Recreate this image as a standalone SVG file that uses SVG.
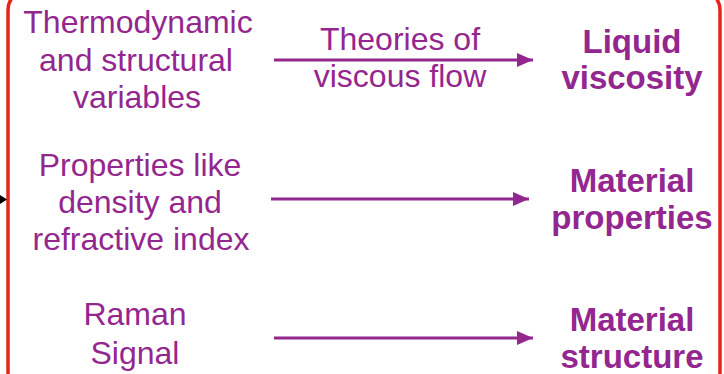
<svg xmlns="http://www.w3.org/2000/svg" width="724" height="374" viewBox="0 0 724 374">
<defs>
<marker id="ah" markerUnits="userSpaceOnUse" markerWidth="17" markerHeight="14" refX="16" refY="7" orient="auto">
<path d="M0,0 L16,7 L0,14 Z" fill="#93278F"/>
</marker>
<style>
.t{font-family:"Liberation Sans",Arial,sans-serif;font-size:32px;fill:#93278F;text-anchor:middle}
.b{font-family:"Liberation Sans",Arial,sans-serif;font-size:33px;font-weight:bold;fill:#93278F;text-anchor:middle}
.c{stroke:#93278F;stroke-width:3;fill:none;marker-end:url(#ah)}
</style>
</defs>
<rect x="0" y="0" width="724" height="374" fill="#ffffff"/>
<rect id="frame" x="8" y="-10" width="712" height="402" rx="20" ry="20" fill="none" stroke="#E8231A" stroke-width="3.5"/>
<polygon points="0,195 7,199.5 0,204" fill="#000000"/>
<g id="n1">
<text class="t" x="138" y="33">Thermodynamic</text>
<text class="t" x="136" y="71">and structural</text>
<text class="t" x="137" y="108">variables</text>
</g>
<g id="n2">
<text class="t" x="140" y="176">Properties like</text>
<text class="t" x="140" y="213">density and</text>
<text class="t" x="141" y="250">refractive index</text>
</g>
<g id="n3">
<text class="t" x="135" y="325">Raman</text>
<text class="t" x="135" y="364">Signal</text>
</g>
<g id="r1">
<text class="b" x="632" y="53">Liquid</text>
<text class="b" x="632" y="89">viscosity</text>
</g>
<g id="r2">
<text class="b" x="632" y="192">Material</text>
<text class="b" x="632" y="229">properties</text>
</g>
<g id="r3">
<text class="b" x="632" y="331">Material</text>
<text class="b" x="632" y="368">structure</text>
</g>
<g id="connectors">
<line class="c" x1="274" y1="60" x2="533" y2="60"/>
<line class="c" x1="271" y1="199" x2="529" y2="199"/>
<line class="c" x1="274" y1="338" x2="533" y2="338"/>
<text class="t" x="400" y="50">Theories of</text>
<text class="t" x="400" y="87">viscous flow</text>
</g>
</svg>
